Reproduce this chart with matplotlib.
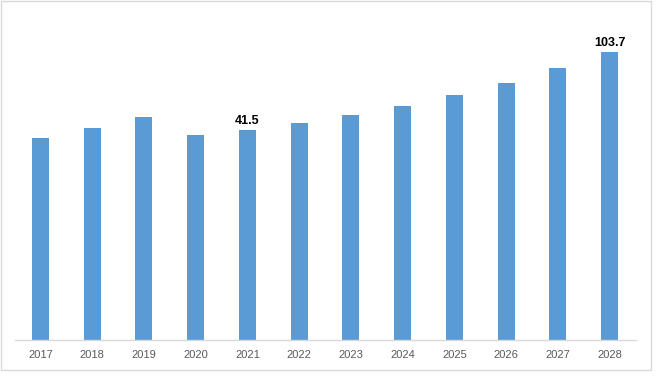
import numpy as np
import matplotlib.pyplot as plt
from matplotlib.patches import Rectangle

# values (axis is not zero based in the source)
years = ['2017', '2018', '2019', '2020', '2021', '2022',
         '2023', '2024', '2025', '2026', '2027', '2028']
values = [35.4, 43.3, 51.8, 37.5, 41.5, 46.9, 53.3, 60.6, 69.3, 78.8, 90.8, 103.7]
labelled = {'2021': '41.5', '2028': '103.7'}

W, H = 660, 377
fig = plt.figure(figsize=(W/100, H/100), dpi=100)
fig.patch.set_facecolor('white')

# light frame round the picture
fig.patches.append(Rectangle((1/W, 7/H), 650/W, 369/H, transform=fig.transFigure,
                             fill=False, edgecolor='#D9D9D9', lw=1))

ax = fig.add_axes([14.5/W, 37/H, 621/W, 320/H])
x = np.arange(len(years))
ax.bar(x, np.array(values) + 125.3, bottom=-125.3, width=0.33, color='#5B9BD5')

ax.set_xlim(-0.5, len(years) - 0.5)
ax.set_ylim(-125.3, 129)
ax.set_xticks(x)
ax.set_xticklabels(years, fontsize=8, color='#595959', family='Liberation Sans')
ax.tick_params(axis='x', length=0, pad=7)
ax.set_yticks([])
for s in ['top', 'left', 'right']:
    ax.spines[s].set_visible(False)
ax.spines['bottom'].set_color('#D9D9D9')
ax.spines['bottom'].set_linewidth(1)

for i, yr in enumerate(years):
    if yr in labelled:
        ax.annotate(labelled[yr], (i, values[i]), xytext=(0, 2),
                    textcoords='offset points', ha='center', va='bottom',
                    fontsize=9, fontweight='bold', color='black',
                    family='Liberation Sans')

fig.savefig('out.png', dpi=100)
